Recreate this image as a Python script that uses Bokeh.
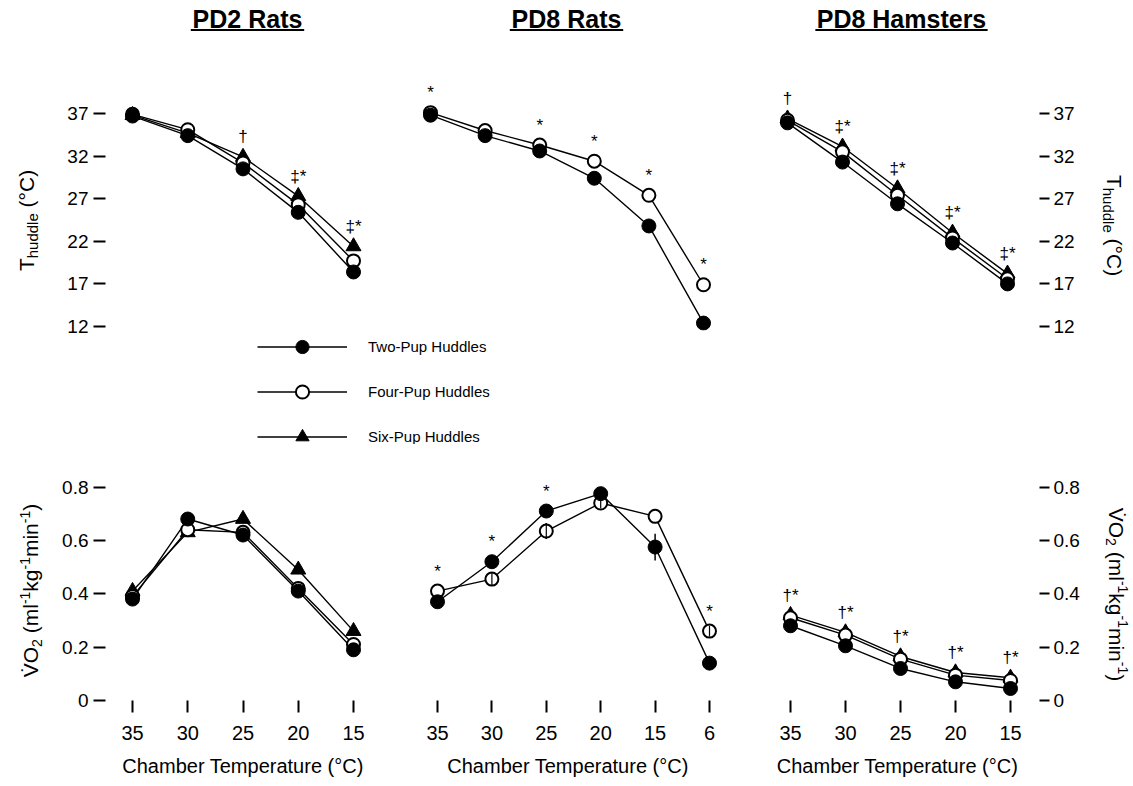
import math
from bokeh.plotting import figure
from bokeh.layouts import column, row
from bokeh.models import (Range1d, FixedTicker, Label, BoxAnnotation, Legend,
                          LegendItem, ColumnDataSource)
from bokeh.core.properties import value
from bokeh.embed import file_html
from bokeh.resources import INLINE

FONT = "Liberation Sans"

# ---------------- data ----------------
panel_titles = ["PD2 Rats", "PD8 Rats", "PD8 Hamsters"]
series_names = ["Two-Pup Huddles", "Four-Pup Huddles", "Six-Pup Huddles"]

pd2_temps = ["35", "30", "25", "20", "15"]
pd8_rat_temps = ["35", "30", "25", "20", "15", "6"]
ham_temps = ["35", "30", "25", "20", "15"]

t_ticks = [12, 17, 22, 27, 32, 37]
v_ticks = [0, 0.2, 0.4, 0.6, 0.8]
v_tick_labels = ["0", "0.2", "0.4", "0.6", "0.8"]

# T huddle (deg C)
pd2_t_two = [36.7, 34.4, 30.5, 25.4, 18.4]
pd2_t_four = [36.9, 35.1, 31.2, 26.3, 19.7]
pd2_t_six = [36.8, 34.7, 31.9, 27.3, 21.4]

pd8r_t_two = [36.8, 34.4, 32.6, 29.4, 23.8, 12.4]
pd8r_t_four = [37.1, 35.0, 33.3, 31.4, 27.4, 16.9]

ham_t_two = [35.9, 31.3, 26.4, 21.8, 17.0]
ham_t_four = [36.2, 32.5, 27.4, 22.4, 17.6]
ham_t_six = [36.4, 33.1, 28.2, 23.0, 18.2]

# VO2 (ml-1 kg-1 min-1)
pd2_v_two = [0.38, 0.68, 0.62, 0.41, 0.19]
pd2_v_four = [0.39, 0.64, 0.63, 0.42, 0.21]
pd2_v_six = [0.41, 0.63, 0.68, 0.49, 0.26]

pd8r_v_two = [0.37, 0.52, 0.71, 0.775, 0.575, 0.14]
pd8r_v_four = [0.41, 0.455, 0.635, 0.74, 0.69, 0.26]
# visible error bars (half-length) in PD8 rat VO2
pd8r_v_two_err = [0.0, 0.0, 0.0, 0.0, 0.05, 0.025]
pd8r_v_four_err = [0.0, 0.025, 0.03, 0.02, 0.0, 0.02]

ham_v_two = [0.28, 0.205, 0.12, 0.07, 0.045]
ham_v_four = [0.31, 0.245, 0.155, 0.095, 0.075]
ham_v_six = [0.32, 0.255, 0.165, 0.105, 0.085]

# significance marks
pd2_t_marks = ["", "", "†", "‡*", "‡*"]
pd8r_t_marks = ["*", "", "*", "*", "*", "*"]
ham_t_marks = ["†", "‡*", "‡*", "‡*", "‡*"]
pd2_v_marks = ["", "", "", "", ""]
pd8r_v_marks = ["*", "*", "*", "", "", "*"]
ham_v_marks = ["†*", "†*", "†*", "†*", "†*"]

# ---------------- styles / geometry ----------------
STYLES = [
    dict(marker="circle", size=14, fill_color="black", line_color="black", line_width=1),
    dict(marker="circle", size=13, fill_color="white", line_color="black", line_width=2),
    dict(marker="triangle", size=15, fill_color="black", line_color="black", line_width=1),
]

LAB_L = (0, 50)
LAB_R = (1085, 1133)
COLS = [(50, 380, 105, 380), (380, 755, 380, 755), (755, 1085, 755, 1039)]
TOP_Y0, TOP_H, TOP_FB = 0, 337, 330
LEG_Y0, LEG_H = 337, 107
BOT_Y0, BOT_H, BOT_FB = 444, 342, 700

top_xpix = [(132, 353), (430, 703), (787, 1007)]
bot_xpix = [(132, 353), (437, 709), (790, 1010)]


def lin(pa, va, pb, vb):
    k = (vb - va) / (pb - pa)
    return lambda px: va + (px - pa) * k


t_of = lin(113, 37.0, 326, 12.0)
v_of = lin(700, 0.0, 486.5, 0.8)

CW = {'T': .611, 'h': .556, 'u': .556, 'd': .556, 'l': .222, 'e': .556, ' ': .278,
      '(': .333, ')': .333, 'o': .556, 'C': .722, 'V': .667, 'O': .778, '2': .556,
      'm': .833, '-': .333, '1': .556, 'k': .5, 'g': .556, 'i': .222, 'n': .556,
      '°': .4, '\u0307': 0.0, 'P': .667, 'D': .722, '8': .556, 'R': .722, 'a': .556,
      't': .278, 's': .5, 'H': .722, 'r': .333}


def tw(s, size):
    return sum(CW.get(c, .556) for c in s) * size


def base_fig(width, height, xr, yr, **kw):
    p = figure(width=width, height=height, x_range=xr, y_range=yr,
               output_backend="svg", toolbar_location=None,
               background_fill_color="white", border_fill_color="white", **kw)
    p.outline_line_color = None
    p.grid.visible = False
    return p


def make_fig(col, fig_y0, fig_h, frame_bottom, yfun, xpix, n, yloc, xaxis):
    fl, fr, xl, xr = COLS[col]
    xfun = lin(xpix[0], 0, xpix[1], n - 1)
    p = base_fig(fr - fl, fig_h,
                 Range1d(xfun(xl), xfun(xr)),
                 Range1d(yfun(frame_bottom), yfun(fig_y0)),
                 x_axis_location="below" if xaxis else None,
                 y_axis_location=yloc,
                 min_border_left=xl - fl, min_border_right=fr - xr,
                 min_border_top=0, min_border_bottom=fig_y0 + fig_h - frame_bottom)
    p._xfun = xfun
    p._yfun = yfun
    return p


def label_fig(xspan, fig_y0, fig_h, frame_bottom):
    # narrow strip holding a rotated axis title; its frame lines up with the row's frames
    p = base_fig(xspan[1] - xspan[0], fig_h,
                 Range1d(xspan[0], xspan[1]), Range1d(frame_bottom, fig_y0),
                 x_axis_location=None, y_axis_location=None,
                 min_border_left=0, min_border_right=0, min_border_top=0,
                 min_border_bottom=fig_y0 + fig_h - frame_bottom)
    p._xfun = lambda px: px
    p._yfun = lambda py: py
    return p


def style_yaxis(p, ticks, labels, right=False):
    for ax in p.yaxis:
        ax.ticker = FixedTicker(ticks=ticks)
        if labels is not None:
            ax.major_label_overrides = {t: l for t, l in zip(ticks, labels)}
        ax.axis_line_color = None
        ax.minor_tick_line_color = None
        ax.major_tick_line_color = "black"
        ax.major_tick_line_width = 2
        ax.major_tick_in = 0
        ax.major_tick_out = 10 if right else 12
        ax.major_label_standoff = 4 if right else 5
        ax.major_label_text_font = FONT
        ax.major_label_text_font_size = "19px"
        ax.major_label_text_color = "black"


def style_xaxis(p, labels):
    for ax in p.xaxis:
        ax.ticker = FixedTicker(ticks=list(range(len(labels))))
        ax.major_label_overrides = {i: l for i, l in enumerate(labels)}
        ax.axis_line_color = None
        ax.minor_tick_line_color = None
        ax.major_tick_line_color = "black"
        ax.major_tick_line_width = 2
        ax.major_tick_in = 0
        ax.major_tick_out = 12
        ax.major_label_standoff = 13
        ax.major_label_text_font = FONT
        ax.major_label_text_font_size = "20px"
        ax.major_label_text_color = "black"
        ax.axis_label = "Chamber Temperature (°C)"
        ax.axis_label_text_font = FONT
        ax.axis_label_text_font_size = "20px"
        ax.axis_label_text_font_style = "normal"
        ax.axis_label_standoff = 12
        ax.axis_label_text_color = "black"


def draw_series(p, series, marks, errors=None):
    n = len(series[0])
    xs = list(range(n))
    if errors:
        for vals, errs in zip(series, errors):
            p.segment(x0=xs, x1=xs, y0=[v - e for v, e in zip(vals, errs)],
                      y1=[v + e for v, e in zip(vals, errs)],
                      line_color="black", line_width=1.5)
    for vals in series:
        p.line(xs, vals, line_color="black", line_width=1.4)
    for i in list(range(len(series)))[::-1]:
        p.scatter(xs, series[i], **STYLES[i])
    if errors:
        # error bar visible through the open markers
        for vals, errs in zip(series[1:], errors[1:]):
            p.segment(x0=xs, x1=xs, y0=[v - e for v, e in zip(vals, errs)],
                      y1=[v + e for v, e in zip(vals, errs)],
                      line_color="black", line_width=1.2)
    tops = [max(v[j] for v in series) for j in range(n)]
    p.text(x=xs, y=tops, text=marks, text_font=value(FONT), text_font_size="17px",
           text_align="center", text_baseline="middle", y_offset=-20, text_color="black")


def rot_label(p, cx, cy, pieces, direction):
    total = sum(tw(t, s) for t, s, sh in pieces)
    start = cy + direction * total / 2
    pos = 0.0
    for t, s, sh in pieces:
        shown = t.lstrip(" ")
        lead = tw(t[:len(t) - len(shown)], s)
        py = start - direction * (pos + lead)
        px = cx - direction * sh
        p.add_layout(Label(x=p._xfun(px), y=p._yfun(py), text=shown,
                           angle=direction * math.pi / 2, text_font=FONT,
                           text_font_size=f"{s}px", text_align="left",
                           text_baseline="middle", text_color="black"))
        pos += tw(t, s)


def title(p, cx, text):
    p.add_layout(Label(x=p._xfun(cx), y=p._yfun(18), text=text, text_font=FONT,
                       text_font_size="25px", text_font_style="bold",
                       text_align="center", text_baseline="middle", text_color="black"))
    w = tw(text, 26.5)
    p.add_layout(BoxAnnotation(left=p._xfun(cx - w / 2), right=p._xfun(cx + w / 2),
                               top=p._yfun(28.5), bottom=p._yfun(30.5),
                               fill_color="black", fill_alpha=1.0, line_color=None))


T_PIECES = [("T", 21, 0), ("huddle", 15, -6), (" (°C)", 21, 0)]
V_PIECES = [("V\u0307O", 21, 0), ("2", 14, -6), (" (ml", 21, 0), ("-1", 14, 6),
            ("kg", 21, 0), ("-1", 14, 6), ("min", 21, 0), ("-1", 14, 6), (")", 21, 0)]

# ---------------- top row ----------------
tl = label_fig(LAB_L, TOP_Y0, TOP_H, TOP_FB)
tr = label_fig(LAB_R, TOP_Y0, TOP_H, TOP_FB)
t1 = make_fig(0, TOP_Y0, TOP_H, TOP_FB, t_of, top_xpix[0], len(pd2_temps), "left", False)
t2 = make_fig(1, TOP_Y0, TOP_H, TOP_FB, t_of, top_xpix[1], len(pd8_rat_temps), None, False)
t3 = make_fig(2, TOP_Y0, TOP_H, TOP_FB, t_of, top_xpix[2], len(ham_temps), "right", False)
style_yaxis(t1, t_ticks, None)
style_yaxis(t3, t_ticks, None, right=True)
draw_series(t1, [pd2_t_two, pd2_t_four, pd2_t_six], pd2_t_marks)
draw_series(t2, [pd8r_t_two, pd8r_t_four], pd8r_t_marks)
draw_series(t3, [ham_t_two, ham_t_four, ham_t_six], ham_t_marks)
title(t1, 247, panel_titles[0])
title(t2, 566, panel_titles[1])
title(t3, 901, panel_titles[2])
rot_label(tl, 26, 220, T_PIECES, 1)
rot_label(tr, 1114, 225, T_PIECES, -1)

# ---------------- legend strip ----------------
leg = base_fig(1133, LEG_H, Range1d(0, 1), Range1d(0, 1),
               x_axis_location=None, y_axis_location=None, min_border=0)
items = []
for name, st in zip(series_names, STYLES):
    src = ColumnDataSource(dict(x=[-10], y=[-10]))
    lr = leg.line("x", "y", source=src, line_color="black", line_width=1.4)
    sr = leg.scatter("x", "y", source=src, **st)
    items.append(LegendItem(label=name, renderers=[lr, sr]))
legend = Legend(items=items, location=(257, -8.5), glyph_width=90, glyph_height=33,
                spacing=12, padding=0, margin=0, label_standoff=21,
                border_line_color=None, background_fill_alpha=0,
                label_text_font=FONT, label_text_font_size="15px",
                label_text_color="black")
leg.add_layout(legend)

# ---------------- bottom row ----------------
bl = label_fig(LAB_L, BOT_Y0, BOT_H, BOT_FB)
br = label_fig(LAB_R, BOT_Y0, BOT_H, BOT_FB)
b1 = make_fig(0, BOT_Y0, BOT_H, BOT_FB, v_of, bot_xpix[0], len(pd2_temps), "left", True)
b2 = make_fig(1, BOT_Y0, BOT_H, BOT_FB, v_of, bot_xpix[1], len(pd8_rat_temps), None, True)
b3 = make_fig(2, BOT_Y0, BOT_H, BOT_FB, v_of, bot_xpix[2], len(ham_temps), "right", True)
style_yaxis(b1, v_ticks, v_tick_labels)
style_yaxis(b3, v_ticks, v_tick_labels, right=True)
style_xaxis(b1, pd2_temps)
style_xaxis(b2, pd8_rat_temps)
style_xaxis(b3, ham_temps)
draw_series(b1, [pd2_v_two, pd2_v_four, pd2_v_six], pd2_v_marks)
draw_series(b2, [pd8r_v_two, pd8r_v_four], pd8r_v_marks,
            errors=[pd8r_v_two_err, pd8r_v_four_err])
draw_series(b3, [ham_v_two, ham_v_four, ham_v_six], ham_v_marks)
rot_label(bl, 30, 590, V_PIECES, 1)
rot_label(br, 1116, 594, V_PIECES, -1)

layout = column(row(tl, t1, t2, t3, tr), leg, row(bl, b1, b2, b3, br))
open("out.html", "w").write(file_html(layout, INLINE))
